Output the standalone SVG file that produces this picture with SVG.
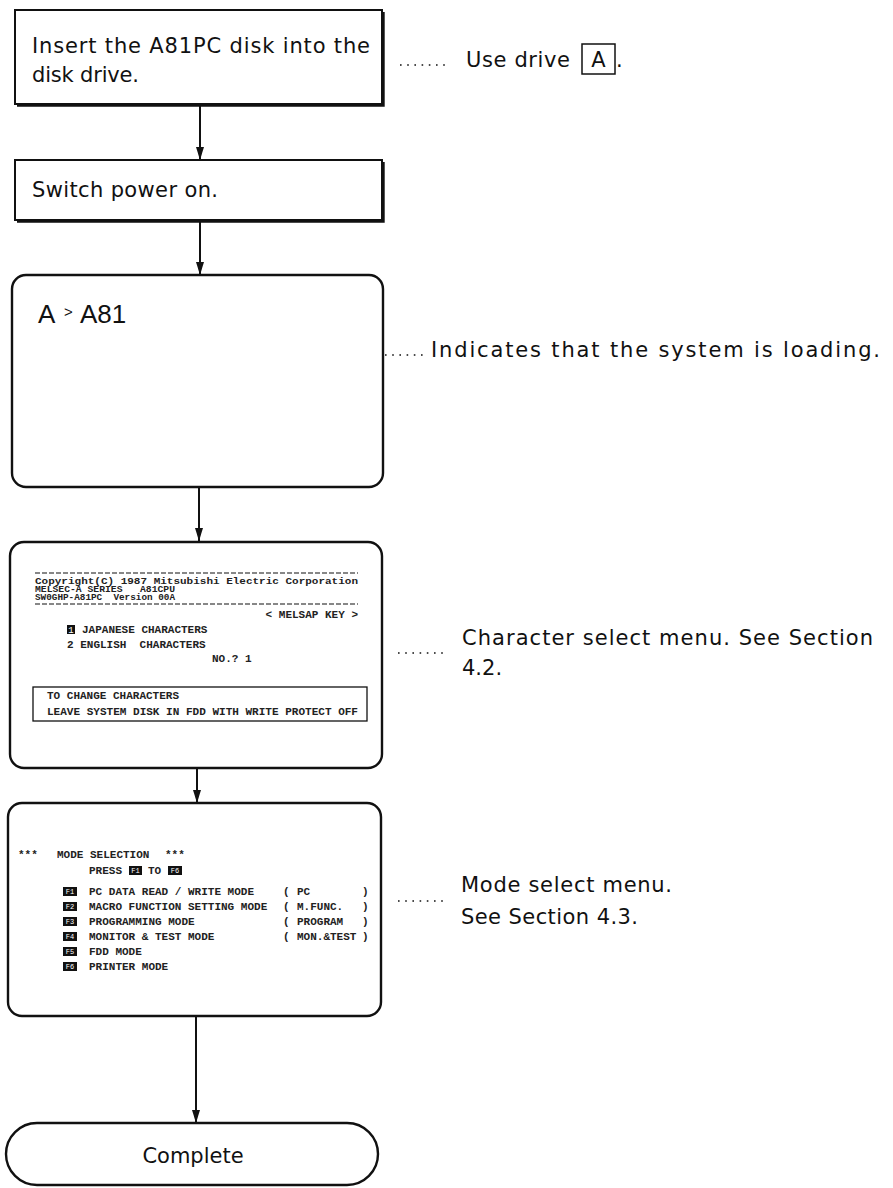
<svg xmlns="http://www.w3.org/2000/svg" width="893" height="1188" viewBox="0 0 893 1188">
<style>
.lbl{font-family:"DejaVu Sans","Liberation Sans",Arial,sans-serif;font-size:21px;fill:#111}
.scr{font-family:"Liberation Mono","DejaVu Sans Mono",monospace;font-size:11px;font-weight:bold;fill:#222}
.hdr{font-size:8.5px}
.box{fill:#fff;stroke:#111;stroke-width:2}
.shd{fill:none;stroke:#111;stroke-width:2.4}
.conn{stroke:#111;stroke-width:2;fill:none}
.dots{stroke:#111;stroke-width:1.6;stroke-dasharray:1.6 5.6}
.dash{stroke:#111;stroke-width:1.2;stroke-dasharray:5 2}
.key{fill:#111}
.keyt{font-family:"Liberation Mono","DejaVu Sans Mono",monospace;font-size:7px;fill:#fff;text-anchor:middle}
</style>
<defs>
<marker id="ah" viewBox="0 0 13 8" refX="13" refY="4" markerWidth="13" markerHeight="8" markerUnits="userSpaceOnUse" orient="auto">
<path d="M0,0 L13,4 L0,8 z" fill="#111"/>
</marker>
</defs>
<rect width="893" height="1188" fill="#fff"/>

<g id="connectors">
<line class="conn" x1="200" y1="104" x2="200" y2="160" marker-end="url(#ah)"/>
<line class="conn" x1="200" y1="220" x2="200" y2="275" marker-end="url(#ah)"/>
<line class="conn" x1="199" y1="487" x2="199" y2="541" marker-end="url(#ah)"/>
<line class="conn" x1="197" y1="768" x2="197" y2="803" marker-end="url(#ah)"/>
<line class="conn" x1="196" y1="1016" x2="196" y2="1123" marker-end="url(#ah)"/>
</g>

<g id="n1">
<rect class="box" x="15" y="10" width="367" height="94"/>
<path class="shd" d="M383.5,12 V105.5 H17"/>
<text class="lbl" x="32" y="53" textLength="338" lengthAdjust="spacing">Insert the A81PC disk into the</text>
<text class="lbl" x="32" y="82" textLength="107" lengthAdjust="spacing">disk drive.</text>
</g>

<g id="n2">
<rect class="box" x="15" y="160" width="367" height="60"/>
<path class="shd" d="M383.5,162 V221.5 H17"/>
<text class="lbl" x="32" y="197" textLength="186" lengthAdjust="spacing">Switch power on.</text>
</g>

<g id="n3">
<rect class="box" x="12" y="275" width="371" height="212" rx="14" ry="14" style="stroke-width:2.4"/>
<text x="38" y="323" style="font-family:'Liberation Sans',Arial,sans-serif;font-size:26px;fill:#111">A</text>
<text x="64" y="317" style="font-family:'Liberation Sans',Arial,sans-serif;font-size:15px;fill:#111">&gt;</text>
<text x="80" y="323" style="font-family:'Liberation Sans',Arial,sans-serif;font-size:26px;fill:#111">A81</text>
</g>

<g id="n4">
<rect class="box" x="10" y="542" width="372" height="226" rx="14" ry="14" style="stroke-width:2.4"/>
<line class="dash" x1="35" y1="573" x2="358" y2="573"/>
<text class="scr hdr" x="35" y="584" textLength="323" lengthAdjust="spacingAndGlyphs">Copyright(C) 1987 Mitsubishi Electric Corporation</text>
<text class="scr hdr" x="35" y="592" xml:space="preserve" textLength="140" lengthAdjust="spacingAndGlyphs">MELSEC-A SERIES   A81CPU</text>
<text class="scr hdr" x="35" y="600" xml:space="preserve" textLength="140" lengthAdjust="spacingAndGlyphs">SW0GHP-A81PC  Version 00A</text>
<line class="dash" x1="35" y1="604" x2="358" y2="604"/>
<text class="scr" x="358" y="618" text-anchor="end">&lt; MELSAP KEY &gt;</text>
<rect class="key" x="67" y="625" width="8" height="9"/>
<text class="keyt" x="71" y="633" style="font-size:9px">1</text>
<text class="scr" x="82" y="633">JAPANESE CHARACTERS</text>
<text class="scr" x="67" y="648" xml:space="preserve">2 ENGLISH  CHARACTERS</text>
<text class="scr" x="212" y="662">NO.? 1</text>
<rect x="33" y="687" width="334" height="34" fill="none" stroke="#111" stroke-width="1.3"/>
<text class="scr" x="47" y="699">TO CHANGE CHARACTERS</text>
<text class="scr" x="47" y="715" textLength="311" lengthAdjust="spacingAndGlyphs">LEAVE SYSTEM DISK IN FDD WITH WRITE PROTECT OFF</text>
</g>

<g id="n5">
<rect class="box" x="8" y="803" width="373" height="213" rx="14" ry="14" style="stroke-width:2.4"/>
<text class="scr" x="18" y="858">***</text>
<text class="scr" x="57" y="858">MODE SELECTION</text>
<text class="scr" x="165" y="858">***</text>
<text class="scr" x="89" y="874">PRESS</text>
<rect class="key" x="129" y="866" width="13" height="9"/>
<text class="keyt" x="135.5" y="873">F1</text>
<text class="scr" x="148" y="874">TO</text>
<rect class="key" x="168" y="866" width="14" height="9"/>
<text class="keyt" x="175" y="873">F6</text>

<rect class="key" x="63" y="887" width="14" height="9"/><text class="keyt" x="70" y="894">F1</text>
<text class="scr" x="89" y="895">PC DATA READ / WRITE MODE</text>
<text class="scr" x="283" y="895">(</text><text class="scr" x="297" y="895">PC</text><text class="scr" x="362" y="895">)</text>

<rect class="key" x="63" y="902" width="14" height="9"/><text class="keyt" x="70" y="909">F2</text>
<text class="scr" x="89" y="910">MACRO FUNCTION SETTING MODE</text>
<text class="scr" x="283" y="910">(</text><text class="scr" x="297" y="910">M.FUNC.</text><text class="scr" x="362" y="910">)</text>

<rect class="key" x="63" y="917" width="14" height="9"/><text class="keyt" x="70" y="924">F3</text>
<text class="scr" x="89" y="925">PROGRAMMING MODE</text>
<text class="scr" x="283" y="925">(</text><text class="scr" x="297" y="925">PROGRAM</text><text class="scr" x="362" y="925">)</text>

<rect class="key" x="63" y="932" width="14" height="9"/><text class="keyt" x="70" y="939">F4</text>
<text class="scr" x="89" y="940">MONITOR &amp; TEST MODE</text>
<text class="scr" x="283" y="940">(</text><text class="scr" x="297" y="940">MON.&amp;TEST</text><text class="scr" x="362" y="940">)</text>

<rect class="key" x="63" y="947" width="14" height="9"/><text class="keyt" x="70" y="954">F5</text>
<text class="scr" x="89" y="955">FDD MODE</text>

<rect class="key" x="63" y="962" width="14" height="9"/><text class="keyt" x="70" y="969">F6</text>
<text class="scr" x="89" y="970">PRINTER MODE</text>
</g>

<g id="n6">
<rect class="box" x="6" y="1123" width="372" height="62" rx="31" ry="31" style="stroke-width:2.4"/>
<text class="lbl" x="193" y="1163" text-anchor="middle">Complete</text>
</g>

<g id="a1">
<line class="dots" x1="400" y1="65" x2="448" y2="65"/>
<text class="lbl" x="466" y="67" textLength="104" lengthAdjust="spacing">Use drive</text>
<rect x="582" y="44" width="33" height="30" fill="none" stroke="#111" stroke-width="1.5"/>
<text class="lbl" x="598.5" y="67" text-anchor="middle">A</text>
<text class="lbl" x="616" y="67">.</text>
</g>

<g id="a2">
<line class="dots" x1="385" y1="355" x2="424" y2="355"/>
<text class="lbl" x="431" y="357" textLength="449" lengthAdjust="spacing">Indicates that the system is loading.</text>
</g>

<g id="a3">
<line class="dots" x1="398" y1="653" x2="445" y2="653"/>
<text class="lbl" x="462" y="645" textLength="411" lengthAdjust="spacing">Character select menu. See Section</text>
<text class="lbl" x="462" y="675">4.2.</text>
</g>

<g id="a4">
<line class="dots" x1="398" y1="901" x2="445" y2="901"/>
<text class="lbl" x="461" y="892" textLength="211" lengthAdjust="spacing">Mode select menu.</text>
<text class="lbl" x="461" y="924" textLength="177" lengthAdjust="spacing">See Section 4.3.</text>
</g>
</svg>
